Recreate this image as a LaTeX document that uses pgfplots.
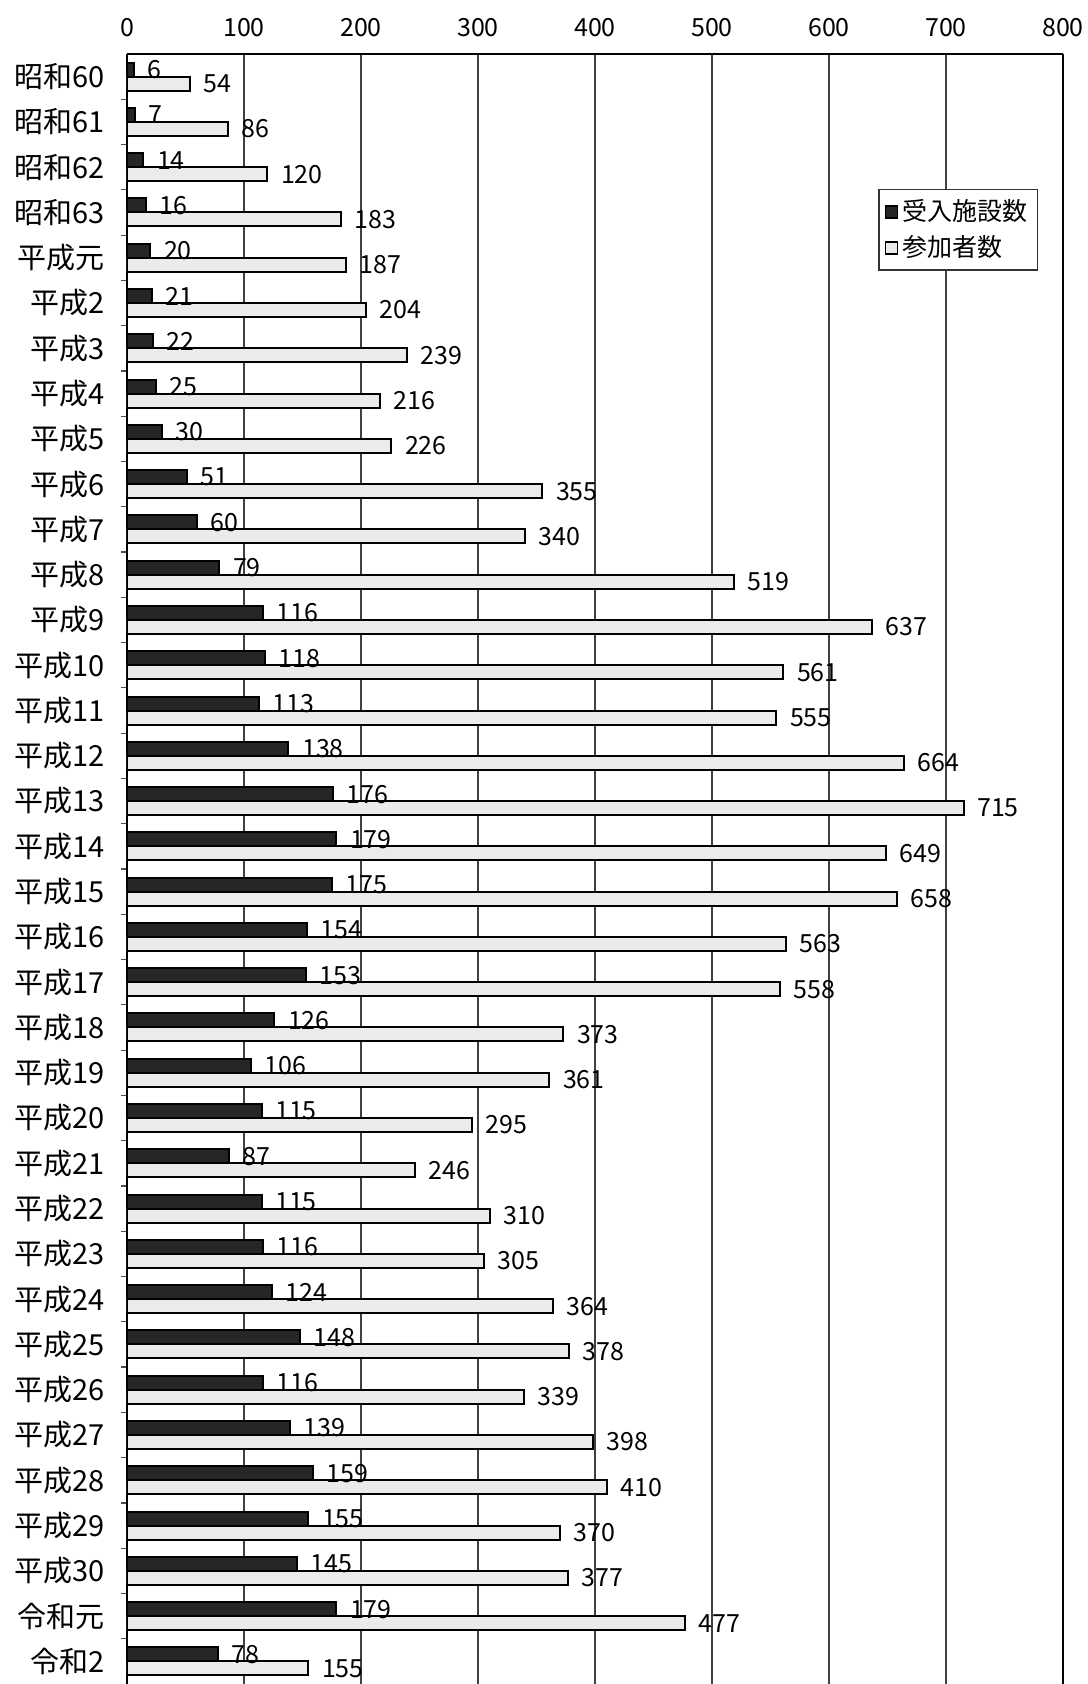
\documentclass[border=0pt]{standalone}
\usepackage{pgfplots}
\pgfplotsset{compat=1.18}
\usepackage{pgfplotstable}
\usepackage{fontspec}
\setmainfont{Noto Sans CJK JP}

\pgfplotstableread{
idx a b
0 6 54
1 7 86
2 14 120
3 16 183
4 20 187
5 21 204
6 22 239
7 25 216
8 30 226
9 51 355
10 60 340
11 79 519
12 116 637
13 118 561
14 113 555
15 138 664
16 176 715
17 179 649
18 175 658
19 154 563
20 153 558
21 126 373
22 106 361
23 115 295
24 87 246
25 115 310
26 116 305
27 124 364
28 148 378
29 116 339
30 139 398
31 159 410
32 155 370
33 145 377
34 179 477
35 78 155
}\data

\begin{document}
\begin{tikzpicture}
\begin{axis}[name=ax, at={(0,0)}, anchor=south west,
  width=468pt, height=815pt, scale only axis,
  xbar, bar width=7pt,
  y dir=reverse, ymin=-0.5, ymax=35.5,
  xmin=0, xmax=800, xtick={0,100,...,800},
  axis x line=top, x axis line style={-, line width=1pt},
  y axis line style={line width=1pt},
  every axis plot/.append style={line width=1pt},
  xmajorgrids, grid style={black!75, line width=0.7pt},
  major x tick style={draw=none},
  ytick={0,...,35},
  yticklabels={昭和60,昭和61,昭和62,昭和63,平成元,平成2,平成3,平成4,平成5,平成6,平成7,平成8,平成9,平成10,平成11,平成12,平成13,平成14,平成15,平成16,平成17,平成18,平成19,平成20,平成21,平成22,平成23,平成24,平成25,平成26,平成27,平成28,平成29,平成30,令和元,令和2},
  ytick pos=left,
  major y tick style={draw=none},
  minor ytick={0.5,1.5,...,34.5},
  minor tick length=3pt,
  minor y tick style={black!70, line width=0.6pt},
  yticklabel style={font=\fontsize{14.5}{17}\selectfont, xshift=-3.5pt},
  xticklabel style={font=\fontsize{12.5}{15}\selectfont, yshift=3pt},
  /pgf/number format/assume math mode=true,
  point meta=x,
  nodes near coords,
  every node near coord/.append style={font=\fontsize{12.5}{15}\selectfont, anchor=west, xshift=3pt, black},
  legend style={at={(0.973,0.917)}, anchor=north east, draw=black!80, line width=0.6pt,
    font=\fontsize{12.5}{15}\selectfont, inner sep=3pt, row sep=2pt},
  legend cell align=left,
  legend image code/.code={\draw[#1, line width=0.6pt] (0pt,-3pt) rectangle (6pt,3pt);},
]
\addplot[fill=black!85, draw=black, bar shift=3.5pt] table[x=a, y=idx] {\data};
\addlegendentry{受入施設数}
\addplot[fill=black!8, draw=black, bar shift=-3.5pt] table[x=b, y=idx] {\data};
\addlegendentry{参加者数}
\end{axis}
\pgfresetboundingbox
\path[use as bounding box] (ax.south west) ++(-63.5pt,0pt) rectangle ++(543.5pt,842pt);
\end{tikzpicture}
\end{document}
